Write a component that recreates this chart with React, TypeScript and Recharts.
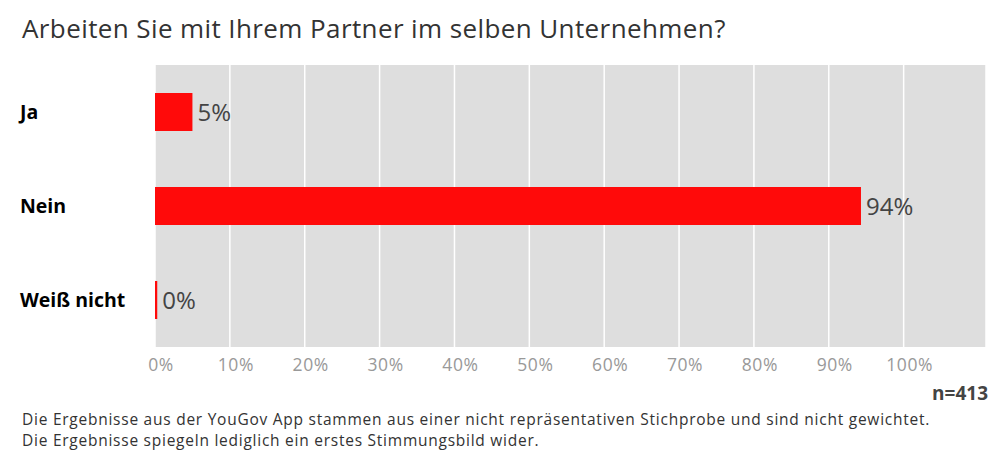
import React from 'react'
import { BarChart, Bar, XAxis, YAxis, CartesianGrid, LabelList } from 'recharts'

const categories = ['Ja', 'Nein', 'Weiß nicht']
const shares = [5, 94.3, 0.3]
const shownLabels = ['5%', '94%', '0%']
const xTicks = [0, 10, 20, 30, 40, 50, 60, 70, 80, 90, 100]

const data = categories.map((c, i) => ({ name: c, value: shares[i], label: shownLabels[i] }))

const FONT = '"Open Sans", sans-serif'

function CategoryTick(props: any) {
  const { y, payload } = props
  return (
    <text x={20} y={y} dy={7} textAnchor="start" fontFamily={FONT} fontWeight={700} fontSize={19.5} fill="#000">
      {payload.value}
    </text>
  )
}

function PercentTick(props: any) {
  const { x, y, payload } = props
  return (
    <text x={x + 6} y={y} dy={14} textAnchor="middle" fontFamily={FONT} fontSize={17.5} letterSpacing={0.6} fill="#999">
      {`${payload.value}%`}
    </text>
  )
}

export default function App() {
  return (
    <div style={{ position: 'absolute', left: 0, top: 0, width: 1000, height: 460, background: '#fff', fontFamily: FONT }}>
      <div style={{ position: 'absolute', left: 22, top: 10, fontSize: 26, color: '#333', fontWeight: 400, letterSpacing: 0.4, whiteSpace: 'nowrap' }}>
        Arbeiten Sie mit Ihrem Partner im selben Unternehmen?
      </div>

      <div style={{ position: 'absolute', left: 0, top: 0 }}>
        <BarChart
          width={1000}
          height={385}
          data={data}
          layout="vertical"
          margin={{ top: 65, right: 14, bottom: 0, left: 0 }}
          barSize={38}
        >
          <CartesianGrid fill="#dedede" stroke="#fff" strokeWidth={1.5} horizontal={false} />
          <XAxis
            type="number"
            domain={[0, 111]}
            ticks={xTicks}
            axisLine={false}
            tickLine={false}
            tick={<PercentTick />}
            height={38}
            tickMargin={4}
          />
          <YAxis
            type="category"
            dataKey="name"
            width={155}
            axisLine={false}
            tickLine={false}
            tick={<CategoryTick />}
          />
          <Bar dataKey="value" fill="#ff0a0a" isAnimationActive={false}>
            <LabelList
              dataKey="label"
              position="right"
              offset={5}
              fill="#444"
              fontSize={24}
              fontFamily={FONT}
            />
          </Bar>
        </BarChart>
      </div>

      <div style={{ position: 'absolute', right: 12, top: 380, fontSize: 19, fontWeight: 700, color: '#444', fontFamily: FONT }}>
        n=413
      </div>
      <div style={{ position: 'absolute', left: 22, top: 409, fontSize: 15.5, color: '#333', lineHeight: '21px', letterSpacing: 0.75, whiteSpace: 'nowrap' }}>
        Die Ergebnisse aus der YouGov App stammen aus einer nicht repräsentativen Stichprobe und sind nicht gewichtet.
        <br />
        Die Ergebnisse spiegeln lediglich ein erstes Stimmungsbild wider.
      </div>
    </div>
  )
}
